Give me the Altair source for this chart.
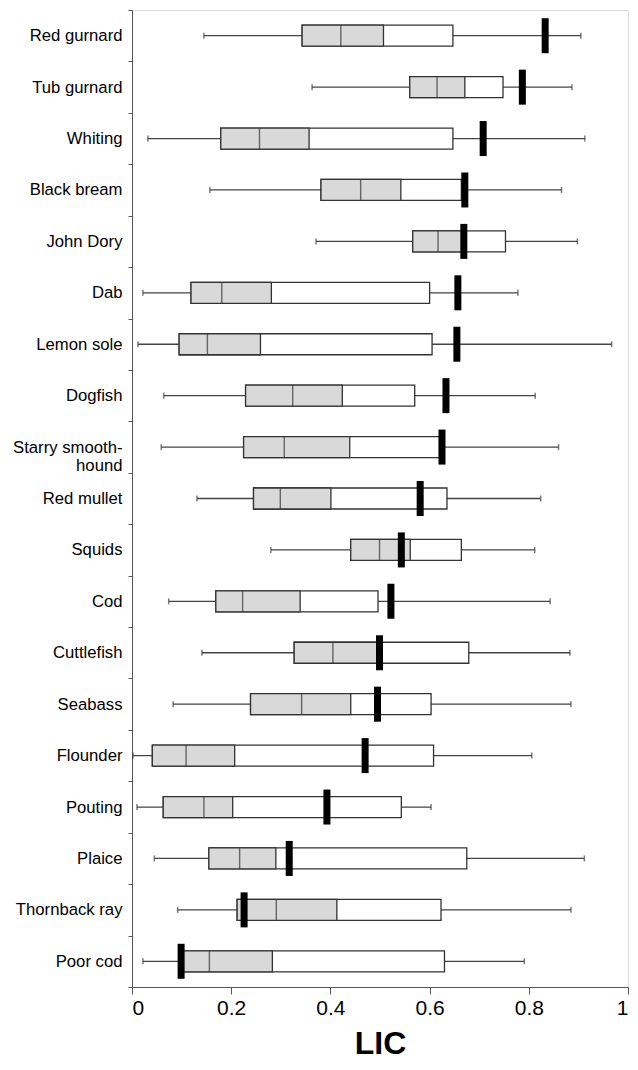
import altair as alt
import pandas as pd

species = ["Red gurnard", "Tub gurnard", "Whiting", "Black bream", "John Dory", "Dab",
           "Lemon sole", "Dogfish", "Starry smooth-hound", "Red mullet", "Squids", "Cod",
           "Cuttlefish", "Seabass", "Flounder", "Pouting", "Plaice", "Thornback ray", "Poor cod"]
lo_whisk = [0.145, 0.363, 0.032, 0.157, 0.371, 0.022, 0.012, 0.064, 0.059, 0.131, 0.280, 0.074,
            0.141, 0.083, 0.002, 0.010, 0.045, 0.092, 0.022]
box_lo = [0.343, 0.560, 0.179, 0.381, 0.566, 0.119, 0.095, 0.229, 0.225, 0.245, 0.441, 0.169,
          0.327, 0.239, 0.041, 0.063, 0.155, 0.212, 0.100]
mid_a = [0.421, 0.615, 0.257, 0.461, 0.617, 0.181, 0.152, 0.324, 0.307, 0.299, 0.499, 0.223,
         0.405, 0.342, 0.109, 0.145, 0.217, 0.291, 0.156]
mid_b = [0.507, 0.671, 0.357, 0.542, 0.667, 0.281, 0.259, 0.424, 0.439, 0.401, 0.561, 0.339,
         0.497, 0.441, 0.207, 0.203, 0.290, 0.413, 0.283]
box_hi = [0.647, 0.748, 0.647, 0.664, 0.753, 0.600, 0.605, 0.570, 0.620, 0.635, 0.664, 0.496,
          0.679, 0.603, 0.608, 0.543, 0.675, 0.623, 0.630]
hi_whisk = [0.905, 0.887, 0.913, 0.866, 0.898, 0.778, 0.967, 0.813, 0.860, 0.824, 0.812, 0.843,
            0.883, 0.885, 0.806, 0.603, 0.912, 0.885, 0.791]
observed = [0.833, 0.787, 0.708, 0.671, 0.669, 0.657, 0.655, 0.633, 0.625, 0.581, 0.543, 0.522,
            0.499, 0.495, 0.470, 0.393, 0.317, 0.226, 0.099]
x_ticks = [0, 0.2, 0.4, 0.6, 0.8, 1]

df = pd.DataFrame({"species": species, "lo": lo_whisk, "q1": box_lo, "ma": mid_a,
                   "mb": mid_b, "q3": box_hi, "hi": hi_whisk, "obs": observed})

NB = "\u00a0" * 7
yaxis = alt.Axis(title=None, tickBand="extent", tickSize=4, labelPadding=6,
                 labelFontSize=16.7, labelColor="black", labelFont="Liberation Sans",
                 labelLineHeight=18, domainColor="#555", tickColor="#555",
                 labelExpr="datum.label == 'Starry smooth-hound' ? ['Starry smooth-', 'hound" + NB + "'] : datum.label")
xscale = alt.Scale(domain=[0, 1], nice=False, zero=False)
xaxis = alt.Axis(title="LIC", values=x_ticks, format="~g", tickSize=7, labelPadding=3,
                 labelFontSize=21, labelColor="black", labelFont="Liberation Sans",
                 titleFontSize=32, titleFontWeight="bold", titleFont="Liberation Sans",
                 titleColor="black", titleBaseline="alphabetic", titlePadding=35,
                 domainColor="#555", tickColor="#555", grid=False)

base = alt.Chart(df).encode(
    y=alt.Y("species:N", sort=species, axis=yaxis,
            scale=alt.Scale(paddingInner=0, paddingOuter=0))
)

whisk = base.mark_rule(color="#444", strokeWidth=1.3).encode(
    x=alt.X("lo:Q", scale=xscale, axis=xaxis, title="LIC"), x2="hi:Q")
cap_lo = base.mark_tick(color="#444", size=6, thickness=1.5).encode(
    x=alt.X("lo:Q", scale=xscale, axis=xaxis, title="LIC"))
cap_hi = base.mark_tick(color="#444", size=6, thickness=1.5).encode(
    x=alt.X("hi:Q", scale=xscale, axis=xaxis, title="LIC"))
box_w = base.mark_bar(size=21, fill="white", stroke="#333", strokeWidth=1.3).encode(
    x=alt.X("q1:Q", scale=xscale, axis=xaxis, title="LIC"), x2="q3:Q")
box_g = base.mark_bar(size=21, fill="#d9d9d9", stroke="#333", strokeWidth=1.3).encode(
    x=alt.X("q1:Q", scale=xscale, axis=xaxis, title="LIC"), x2="mb:Q")
mid_line = base.mark_tick(color="#333", size=21, thickness=1.4).encode(
    x=alt.X("ma:Q", scale=xscale, axis=xaxis, title="LIC"))
obs_bar = base.mark_tick(color="black", size=35, thickness=7, opacity=1).encode(
    x=alt.X("obs:Q", scale=xscale, axis=xaxis, title="LIC"))

chart = alt.layer(whisk, cap_lo, cap_hi, box_w, box_g, mid_line, obs_bar).properties(
    width=496, height=977,
    autosize=alt.AutoSizeParams(type="none"),
    padding={"left": 124, "top": 2, "right": 2, "bottom": 74},
).configure_view(stroke="#555", strokeWidth=1.2).configure(background="white")

chart.save("out.html", embed_options={"renderer": "svg", "actions": False})
